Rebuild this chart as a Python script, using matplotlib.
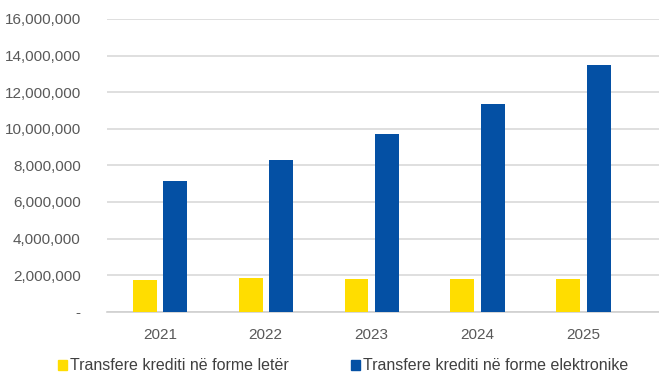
import numpy as np
import matplotlib.pyplot as plt
from matplotlib.patches import Patch
from matplotlib.ticker import FuncFormatter

plt.rcParams["font.family"] = ["Liberation Sans", "DejaVu Sans"]

years = ["2021", "2022", "2023", "2024", "2025"]
paper = [1744000, 1850000, 1800000, 1770000, 1800000]
electronic = [7140000, 8310000, 9720000, 11360000, 13480000]
labels = ["Transfere krediti në forme letër", "Transfere krediti në forme elektronike"]

YELLOW = "#FFDD00"
BLUE = "#0450A4"
GREY = "#595959"

fig = plt.figure(figsize=(6.59, 3.72), dpi=100)
ax = fig.add_axes([0.1624, 0.162, 0.8376, 0.787])

x = np.arange(len(years))
w = 0.226
ax.bar(x - 0.142, paper, width=w, color=YELLOW, zorder=3)
ax.bar(x + 0.146, electronic, width=w, color=BLUE, zorder=3)

ax.set_ylim(0, 16000000)
ax.set_xlim(-0.5, 4.717)
ax.set_yticks(np.arange(0, 16000001, 2000000))
ax.yaxis.set_major_formatter(FuncFormatter(lambda v, p: "-" if v == 0 else f"{int(v):,}"))
ax.set_xticks(x)
ax.set_xticklabels(years)
ax.tick_params(axis="both", length=0, labelsize=11, colors=GREY)
ax.tick_params(axis="y", pad=19)
ax.tick_params(axis="x", pad=12)
ax.grid(axis="y", color="#d9d9d9", linewidth=1.2, zorder=0)
for s in ["top", "right", "left"]:
    ax.spines[s].set_visible(False)
ax.spines["bottom"].set_color("#d0d0d0")
ax.spines["bottom"].set_linewidth(1.2)

handles = [Patch(color=YELLOW), Patch(color=BLUE)]
fig.legend(handles, labels, loc="center left", bbox_to_anchor=(58 / 659, 1 - 366 / 372),
           ncol=2, frameon=False, fontsize=11.5, handlelength=0.56, handleheight=0.56,
           handletextpad=0.2, columnspacing=3.9, borderpad=0, borderaxespad=0,
           labelcolor="#404040")

fig.savefig("out.png", dpi=100)
